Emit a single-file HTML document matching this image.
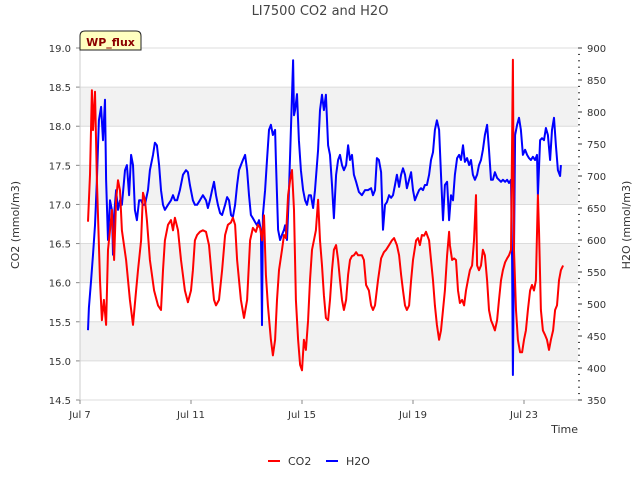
<!DOCTYPE html>
<html><head><meta charset="utf-8"><style>
body{margin:0;background:#fff;font-family:"Liberation Sans","DejaVu Sans",sans-serif}
svg text{font-family:"DejaVu Sans","Liberation Sans",sans-serif}
</style></head><body>
<svg id="chart" width="640" height="480" xmlns="http://www.w3.org/2000/svg">
<g id="bands"></g>
<g id="axes"></g>
<g id="series"></g>
<text x="320" y="15" text-anchor="middle" font-size="13" fill="#444">LI7500 CO2 and H2O</text>
<text transform="translate(19,225) rotate(-90)" text-anchor="middle" font-size="11" fill="#333">CO2 (mmol/m3)</text>
<text transform="translate(630,225) rotate(-90)" text-anchor="middle" font-size="11" fill="#333">H2O (mmol/m3)</text>
<text x="578" y="433" text-anchor="end" font-size="11" fill="#333">Time</text>
<g>
<path d="M80,50 L80,36 Q80,31 85,31 L136,31 Q141,31 141,36 L141,50 Z" fill="#ffffc0" stroke="#222" stroke-width="1"/>
<text x="110.5" y="46" text-anchor="middle" font-size="11" font-weight="bold" fill="#8b0000">WP_flux</text>
</g>
<g>
<g><line x1="268" y1="461" x2="280" y2="461" stroke="#f00" stroke-width="2"/><text x="288" y="465" font-size="11" fill="#333">CO2</text></g>
<g><line x1="326" y1="461" x2="338" y2="461" stroke="#00f" stroke-width="2"/><text x="346" y="465" font-size="11" fill="#333">H2O</text></g>
</g>
</svg>
<script>
const xTickLabels=["Jul 7","Jul 11","Jul 15","Jul 19","Jul 23"];
const xTickDays=[0,4,8,12,16];
const co2Ticks=[14.5,15.0,15.5,16.0,16.5,17.0,17.5,18.0,18.5,19.0];
const h2oTicks=[350,400,450,500,550,600,650,700,750,800,850,900];
const co2Days=[.29,.36,.43,.47,.54,.61,.72,.79,.86,.94,1.01,1.08,1.15,1.23,1.30,1.37,1.44,1.51,1.66,1.80,1.91,2.02,2.09,2.20,2.27,2.34,2.41,2.52,2.67,2.81,2.92,2.99,3.06,3.17,3.28,3.35,3.42,3.53,3.64,3.78,3.89,4.00,4.07,4.14,4.22,4.32,4.43,4.54,4.65,4.76,4.83,4.90,5.01,5.12,5.23,5.33,5.44,5.51,5.59,5.66,5.80,5.91,6.02,6.13,6.23,6.34,6.41,6.49,6.56,6.63,6.70,6.77,6.88,6.95,7.03,7.10,7.17,7.28,7.35,7.42,7.50,7.57,7.64,7.71,7.78,7.86,7.93,8.00,8.07,8.14,8.22,8.29,8.36,8.43,8.50,8.58,8.65,8.72,8.79,8.86,8.94,9.01,9.08,9.15,9.23,9.30,9.37,9.44,9.51,9.59,9.66,9.73,9.80,9.87,9.95,10.02,10.16,10.23,10.31,10.41,10.49,10.56,10.63,10.74,10.85,10.95,11.03,11.14,11.24,11.32,11.42,11.50,11.57,11.64,11.71,11.78,11.86,11.93,12.00,12.11,12.18,12.25,12.32,12.40,12.47,12.58,12.65,12.72,12.79,12.86,12.94,13.01,13.08,13.15,13.23,13.30,13.33,13.41,13.48,13.55,13.62,13.69,13.77,13.84,13.91,13.98,14.05,14.13,14.20,14.27,14.31,14.38,14.45,14.52,14.59,14.67,14.74,14.81,14.88,14.95,15.03,15.10,15.17,15.24,15.32,15.39,15.46,15.53,15.60,15.64,15.71,15.78,15.86,15.93,16.00,16.07,16.14,16.22,16.29,16.36,16.43,16.50,16.54,16.61,16.68,16.76,16.83,16.90,16.97,17.05,17.12,17.19,17.26,17.33,17.41];
const co2Values=[16.78,17.38,18.46,17.95,18.44,17.31,16.03,15.52,15.78,15.46,16.42,16.67,16.93,16.29,17.06,17.31,17.18,16.67,16.29,15.78,15.46,15.90,16.16,16.54,17.15,17.06,16.80,16.29,15.90,15.71,15.65,16.16,16.54,16.74,16.80,16.67,16.83,16.67,16.29,15.90,15.75,15.90,16.16,16.54,16.61,16.65,16.67,16.65,16.48,16.03,15.78,15.71,15.78,16.16,16.61,16.74,16.77,16.83,16.74,16.29,15.78,15.55,15.78,16.54,16.70,16.65,16.74,16.70,16.54,16.86,16.10,15.71,15.27,15.07,15.27,15.78,16.16,16.42,16.61,16.57,17.12,17.31,17.44,16.93,15.78,15.27,14.95,14.88,15.27,15.14,15.52,16.03,16.42,16.54,16.67,17.06,16.54,16.22,15.84,15.55,15.52,15.78,16.16,16.42,16.48,16.29,16.03,15.78,15.65,15.78,16.10,16.29,16.34,16.35,16.39,16.35,16.35,16.29,15.97,15.90,15.71,15.65,15.71,16.03,16.31,16.39,16.42,16.48,16.54,16.57,16.48,16.35,16.10,15.90,15.71,15.65,15.71,16.03,16.29,16.54,16.57,16.48,16.61,16.60,16.65,16.54,16.29,16.03,15.71,15.46,15.27,15.39,15.65,15.90,16.35,16.65,16.48,16.29,16.31,16.29,15.90,15.74,15.78,15.71,15.90,16.03,16.16,16.22,16.54,17.12,16.22,16.16,16.22,16.42,16.35,16.03,15.65,15.52,15.46,15.39,15.52,15.78,16.03,16.16,16.26,16.31,16.35,16.42,18.85,16.42,15.65,15.27,15.11,15.11,15.27,15.39,15.65,15.90,15.97,15.90,16.03,17.12,16.67,15.65,15.39,15.33,15.27,15.14,15.27,15.39,15.65,15.71,16.03,16.16,16.22];
const h2oDays=[.29,.32,.40,.47,.54,.61,.68,.76,.83,.90,.94,1.01,1.08,1.15,1.19,1.23,1.30,1.37,1.44,1.51,1.62,1.69,1.77,1.84,1.91,1.98,2.05,2.13,2.20,2.27,2.34,2.45,2.52,2.63,2.70,2.77,2.85,2.92,2.99,3.06,3.17,3.28,3.35,3.42,3.50,3.60,3.71,3.82,3.89,3.96,4.07,4.14,4.22,4.32,4.43,4.54,4.61,4.68,4.76,4.83,4.90,4.97,5.05,5.12,5.23,5.30,5.37,5.44,5.51,5.59,5.66,5.73,5.80,5.87,5.95,6.02,6.09,6.16,6.23,6.31,6.38,6.45,6.52,6.56,6.59,6.67,6.74,6.81,6.88,6.95,7.03,7.06,7.14,7.21,7.28,7.35,7.39,7.46,7.53,7.60,7.68,7.71,7.75,7.82,7.89,7.96,8.04,8.11,8.18,8.25,8.32,8.40,8.47,8.58,8.65,8.72,8.79,8.86,8.94,9.01,9.08,9.15,9.23,9.30,9.37,9.44,9.51,9.59,9.66,9.73,9.80,9.87,9.95,10.05,10.16,10.27,10.38,10.49,10.56,10.63,10.70,10.77,10.85,10.92,10.99,11.06,11.14,11.21,11.28,11.35,11.42,11.50,11.57,11.64,11.71,11.78,11.86,11.93,12.00,12.07,12.14,12.22,12.29,12.36,12.43,12.50,12.58,12.65,12.72,12.79,12.86,12.94,13.01,13.08,13.15,13.23,13.30,13.37,13.44,13.51,13.59,13.66,13.73,13.80,13.87,13.95,14.02,14.09,14.16,14.23,14.31,14.38,14.45,14.52,14.59,14.67,14.74,14.81,14.88,14.95,15.03,15.10,15.17,15.24,15.32,15.39,15.46,15.53,15.57,15.60,15.64,15.68,15.75,15.82,15.89,15.96,16.04,16.11,16.18,16.25,16.32,16.40,16.47,16.50,16.58,16.65,16.72,16.79,16.86,16.94,17.01,17.08,17.15,17.22,17.30,17.33];
const h2oValues=[459,494,537,577,623,694,787,808,756,819,694,600,662,647,577,639,678,647,662,655,709,717,670,733,717,647,631,662,662,655,655,678,709,733,752,748,717,678,655,647,655,662,670,662,662,678,702,709,706,686,662,655,655,662,670,662,650,662,678,691,670,655,642,639,655,667,662,639,636,655,686,709,717,725,733,709,670,639,634,628,623,631,616,467,639,678,725,772,780,764,772,725,616,600,608,616,623,600,678,772,881,795,803,828,756,709,678,662,655,670,670,650,678,741,803,827,803,827,748,733,686,634,702,725,733,717,709,717,748,725,733,702,691,675,670,678,678,681,670,678,728,725,706,616,655,659,670,666,670,686,702,683,702,712,702,681,694,706,678,662,670,678,681,678,686,686,702,725,737,772,787,772,702,631,686,691,631,670,662,702,728,733,725,748,722,728,717,725,702,694,702,717,725,741,764,780,741,694,694,706,697,694,691,694,691,694,689,694,569,389,584,764,780,791,772,733,741,733,728,725,730,725,733,670,756,759,756,775,764,725,772,791,748,709,700,717];

const NS="http://www.w3.org/2000/svg";
const X0=80,X1=578,Y0=48,Y1=400,PXDAY=27.75;
const xs=d=>X0+d*PXDAY;
const yCo2=v=>Y1-(v-14.5)/(19-14.5)*(Y1-Y0);
const yH2o=v=>Y1-(v-350)/(900-350)*(Y1-Y0);
function mk(tag,attrs,parent){const e=document.createElementNS(NS,tag);for(const k in attrs)e.setAttribute(k,attrs[k]);parent.appendChild(e);return e;}
const bands=document.getElementById('bands'),axes=document.getElementById('axes'),series=document.getElementById('series');
// bands
for(let i=0;i<co2Ticks.length-1;i++){
  if(i%2===1){const r=mk('rect',{x:X0,y:yCo2(co2Ticks[i+1]),width:X1-X0,height:yCo2(co2Ticks[i])-yCo2(co2Ticks[i+1]),fill:'#f2f2f2'},bands);
  
  }
}
co2Ticks.forEach(v=>{
  const y=yCo2(v);
  const g=mk('line',{x1:X0,x2:X1,y1:y,y2:y,stroke:'#dcdcdc','stroke-width':1},axes);
  
  
  mk('line',{x1:X0-4,x2:X0,y1:y,y2:y,stroke:'#888'},axes);
  const t=mk('text',{x:X0-9,y:y+4,'text-anchor':'end','font-size':10,fill:'#333'},axes);t.textContent=v.toFixed(1);
  
  
});
mk('line',{x1:X0,x2:X0,y1:Y0,y2:Y1,stroke:'#ccc'},axes);
h2oTicks.forEach(v=>{
  const y=yH2o(v);
  mk('line',{x1:X1,x2:X1+4,y1:y,y2:y,stroke:'#333'},axes);
  const t=mk('text',{x:X1+9,y:y+4,'font-size':10,fill:'#333'},axes);t.textContent=v;
  
  
});
for(let v=350;v<=900;v+=10){const y=yH2o(v);mk('line',{x1:X1,x2:X1+2,y1:y,y2:y,stroke:'#333'},axes);}
xTickDays.forEach((d,i)=>{
  const x=xs(d);
  mk('line',{x1:x,x2:x,y1:Y1,y2:Y1+4,stroke:'#888'},axes);
  const t=mk('text',{x:x,y:Y1+18,'text-anchor':'middle','font-size':10,fill:'#333'},axes);t.textContent=xTickLabels[i];
  
  
});
function line(days,vals,yf,color,name){
  const p=days.map((d,i)=>(i?'L':'M')+xs(d).toFixed(1)+','+yf(vals[i]).toFixed(1)).join('');
  const e=mk('path',{d:p,fill:'none',stroke:color,'stroke-width':2,'stroke-linejoin':'round'},series);
  
  
}
line(h2oDays,h2oValues,yH2o,'#0000ff','h2o-line');
line(co2Days,co2Values,yCo2,'#ff0000','co2-line');
</script>
</body></html>
